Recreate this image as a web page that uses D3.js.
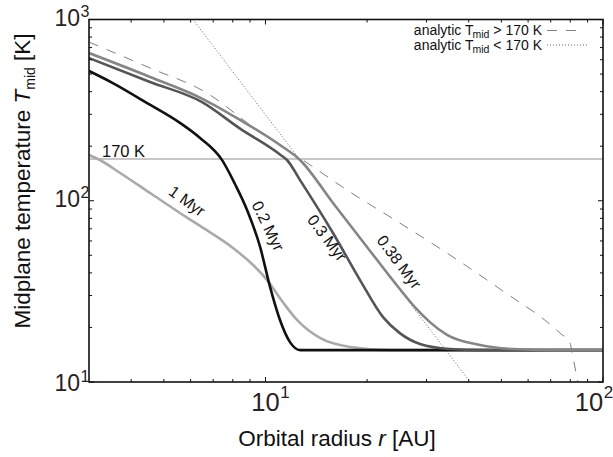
<!DOCTYPE html>
<html><head><meta charset="utf-8">
<script src="https://cdn.jsdelivr.net/npm/d3@7"></script>
<style>
body{margin:0;background:#fff}
svg{display:block;font-family:"Liberation Sans",Arial,Helvetica,sans-serif}
</style>
</head><body><svg id="c" width="613" height="457"></svg>
<script>
// Midplane temperature profiles: radius r [AU] and temperature T [K]
const r1Myr  = [3.00, 3.23, 3.71, 4.55, 5.58, 6.40, 8.01, 9.19, 10.11, 11.19, 12.40, 14.5, 17.8, 23.4, 100];
const T1Myr  = [178.8, 167.8, 142.3, 110.4, 85.6, 72.6, 54.9, 44.2, 36.5, 28.0, 22.0, 17.5, 15.6, 15, 15];

const r02Myr = [3.00, 3.53, 4.46, 5.58, 6.40, 7.43, 8.12, 8.82, 9.64, 10.32, 11.04, 11.82, 12.66, 100];
const T02Myr = [520, 446, 346, 269, 222, 168, 123.7, 88.9, 55.6, 33.4, 22.0, 16.6, 15, 15];

const r03Myr = [3.00, 4.55, 6.49, 8.41, 11.04, 11.58, 12.66, 15.85, 19.06, 22.3, 25.0, 28.7, 35.2, 43.2, 100];
const T03Myr = [613, 452, 350, 250, 180, 167.8, 130, 66.4, 36.5, 22.8, 18.6, 16.2, 15.2, 15, 15];

const r038Myr = [3.00, 4.55, 6.53, 8.41, 11.04, 12.66, 15.85, 19.99, 25.0, 27.7, 30.7, 34.5, 43.2, 54.1, 69.7, 100];
const T038Myr = [653, 482, 364, 279, 203, 167.8, 97.2, 55.6, 32.6, 25.9, 21.4, 18.2, 16.0, 15.2, 15, 15];

// Analytic profiles
const rHot = [3.00, 4.55, 6.71, 9.19, 12.66, 17.8, 25.0, 35.2, 49.5, 74.6, 79.9, 80.9, 84.3];
const THot = [751, 540, 393, 255, 172, 111.8, 75.4, 50.2, 32.6, 18.6, 16.4, 14.6, 10];
const rCold = [6.10, 12.66, 25.0, 40.4];
const TCold = [1000, 167.8, 32.2, 10];

const snowT = 170;

// Axis ticks
const xMajor = [10, 100];
const xMinor = [4, 5, 6, 7, 8, 9, 20, 30, 40, 50, 60, 70, 80, 90];
const yMajor = [10, 100, 1000];
const yMinor = [20, 30, 40, 50, 60, 70, 80, 90, 200, 300, 400, 500, 600, 700, 800, 900];
const xTickLabels = [{v: 10, e: "1"}, {v: 100, e: "2"}];
const yTickLabels = [{v: 10, e: "1"}, {v: 100, e: "2"}, {v: 1000, e: "3"}];

const series = [
  {r: r1Myr,   T: T1Myr,   color: "#aaaaaa", label: "1 Myr",    lx: 187, ly: 201, rot: 36},
  {r: r02Myr,  T: T02Myr,  color: "#111111", label: "0.2 Myr",  lx: 268, ly: 226, rot: 64},
  {r: r03Myr,  T: T03Myr,  color: "#555555", label: "0.3 Myr",  lx: 327, ly: 238, rot: 53},
  {r: r038Myr, T: T038Myr, color: "#858585", label: "0.38 Myr", lx: 399, ly: 262, rot: 53}
];

const svg = d3.select("#c");
const L = 89, R = 603, Tp = 19.5, B = 382;
const x = d3.scaleLog().domain([3, 100]).range([L, R]);
const y = d3.scaleLog().domain([10, 1000]).range([B, Tp]);

svg.append("defs").append("clipPath").attr("id", "plot")
  .append("rect").attr("x", L).attr("y", Tp).attr("width", R - L).attr("height", B - Tp);

const plot = svg.append("g").attr("clip-path", "url(#plot)");

const zip = (rs, Ts) => rs.map((r, i) => [r, Ts[i]]);
const line = d3.line().x(d => x(d[0])).y(d => y(d[1])).curve(d3.curveMonotoneX);
const straight = d3.line().x(d => x(d[0])).y(d => y(d[1]));

// 170 K reference line
plot.append("line")
  .attr("x1", L).attr("x2", R).attr("y1", y(snowT)).attr("y2", y(snowT))
  .attr("stroke", "#b5b5b5").attr("stroke-width", 1.6);

// analytic curves
plot.append("path").attr("d", line(zip(rHot, THot)))
  .attr("fill", "none").attr("stroke", "#808080").attr("stroke-width", 1)
  .attr("stroke-dasharray", "10,9");
plot.append("path").attr("d", straight(zip(rCold, TCold)))
  .attr("fill", "none").attr("stroke", "#666").attr("stroke-width", 1)
  .attr("stroke-dasharray", "1,2");

// model profiles
series.forEach(s => {
  plot.append("path").attr("d", line(zip(s.r, s.T)))
    .attr("fill", "none").attr("stroke", s.color).attr("stroke-width", 2.6)
    .attr("stroke-linejoin", "round");
});

// curve labels
series.forEach(s => {
  svg.append("text")
    .attr("transform", `translate(${s.lx},${s.ly}) rotate(${s.rot})`)
    .attr("text-anchor", "middle").attr("dominant-baseline", "central")
    .attr("font-size", 16).attr("fill", "#111").text(s.label);
});
svg.append("text").attr("x", 102).attr("y", 157).attr("font-size", 16.5)
  .attr("fill", "#111").text("170 K");

// ticks (inward, all four sides)
const tickG = svg.append("g").attr("stroke", "#111").attr("stroke-width", 1);
function xt(vals, len) {
  vals.forEach(v => {
    tickG.append("line").attr("x1", x(v)).attr("x2", x(v)).attr("y1", B).attr("y2", B - len);
    tickG.append("line").attr("x1", x(v)).attr("x2", x(v)).attr("y1", Tp).attr("y2", Tp + len);
  });
}
function yt(vals, len) {
  vals.forEach(v => {
    tickG.append("line").attr("y1", y(v)).attr("y2", y(v)).attr("x1", L).attr("x2", L + len);
    tickG.append("line").attr("y1", y(v)).attr("y2", y(v)).attr("x1", R).attr("x2", R - len);
  });
}
xt(xMinor, 3); xt(xMajor, 5);
yt(yMinor, 3); yt(yMajor, 5);

// frame
svg.append("rect").attr("x", L).attr("y", Tp).attr("width", R - L).attr("height", B - Tp)
  .attr("fill", "none").attr("stroke", "#111").attr("stroke-width", 1.6);

// tick labels: base "10" with exponent
const tickColor = "#2a2222";
xTickLabels.forEach(t => {
  let cx = x(t.v);
  if (cx + 24 > 613) cx = 589;
  const base = svg.append("text").attr("x", cx).attr("y", 411).attr("text-anchor", "middle")
    .attr("font-size", 25.5).attr("fill", tickColor).text("10");
  const w = base.node().getComputedTextLength();
  svg.append("text").attr("x", cx + w / 2 + 0.5).attr("y", 398).attr("font-size", 17)
    .attr("fill", tickColor).text(t.e);
});
yTickLabels.forEach(t => {
  const cy = y(t.v) + (t.v === 10 ? 9 : 6);
  svg.append("text").attr("x", 80).attr("y", cy).attr("text-anchor", "end")
    .attr("font-size", 23).attr("fill", tickColor).text("10");
  svg.append("text").attr("x", 80.5).attr("y", cy - 9).attr("font-size", 16)
    .attr("fill", tickColor).text(t.e);
});

// axis titles
const xt1 = svg.append("text").attr("x", 337).attr("y", 446).attr("text-anchor", "middle")
  .attr("font-size", 22.5).attr("fill", "#111");
xt1.append("tspan").text("Orbital radius ");
xt1.append("tspan").attr("font-style", "italic").text("r");
xt1.append("tspan").text(" [AU]");

const yt1 = svg.append("text").attr("transform", "translate(30,181) rotate(-90)")
  .attr("text-anchor", "middle").attr("font-size", 22.5).attr("fill", "#111");
yt1.append("tspan").text("Midplane temperature ");
yt1.append("tspan").attr("font-style", "italic").text("T");
yt1.append("tspan").attr("font-size", 14).attr("dy", 5).text("mid");
yt1.append("tspan").attr("dy", -5).text(" [K]");

// legend
const legend = [
  {txt: "> 170 K", y: 35, dash: "10,9", color: "#808080", x2: 578},
  {txt: "< 170 K", y: 49.5, dash: "1,2", color: "#666", x2: 587}
];
legend.forEach(l => {
  const t = svg.append("text").attr("x", 542).attr("y", l.y).attr("text-anchor", "end")
    .attr("font-size", 14).attr("fill", "#111");
  t.append("tspan").text("analytic T");
  t.append("tspan").attr("font-size", 10.5).attr("dy", 3).attr("dx", -1).text("mid");
  t.append("tspan").attr("dy", -3).text(" " + l.txt);
  svg.append("line").attr("x1", 547).attr("x2", l.x2).attr("y1", l.y - 4.5).attr("y2", l.y - 4.5)
    .attr("stroke", l.color).attr("stroke-width", 1).attr("stroke-dasharray", l.dash);
});
</script>
</body></html>
